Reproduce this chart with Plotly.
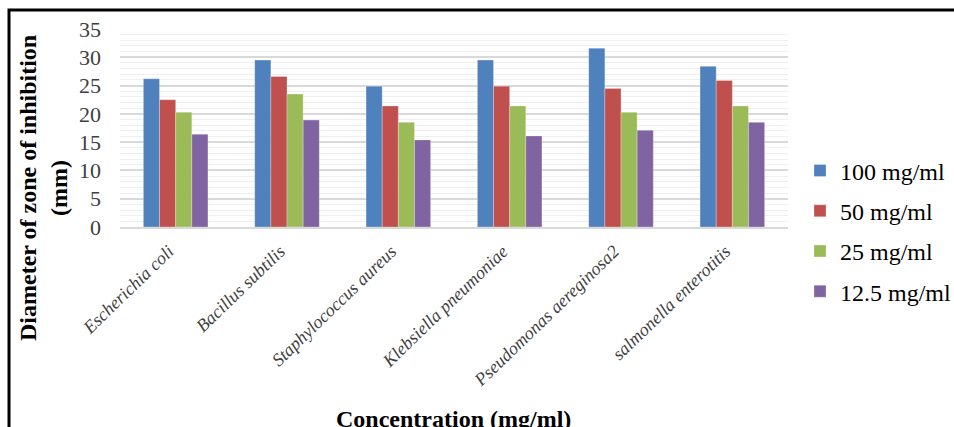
import plotly.graph_objects as go

# Bacterial strains tested
organisms = [
    "Escherichia coli",
    "Bacillus subtilis",
    "Staphylococcus aureus",
    "Klebsiella pneumoniae",
    "Pseudomonas aereginosa2",
    "salmonella enterotitis",
]

# Zone of inhibition (mm) for each extract concentration
conc_100 = [26.2, 29.5, 24.9, 29.5, 31.6, 28.4]
conc_50 = [22.5, 26.6, 21.4, 24.9, 24.5, 25.9]
conc_25 = [20.3, 23.5, 18.5, 21.4, 20.3, 21.4]
conc_12_5 = [16.4, 18.9, 15.4, 16.1, 17.1, 18.5]

series_names = ["100 mg/ml", "50 mg/ml", "25 mg/ml", "12.5 mg/ml"]
series_values = [conc_100, conc_50, conc_25, conc_12_5]
colors = ["#4F81BD", "#C0504D", "#9BBB59", "#8064A2"]

SERIF = "Liberation Serif"

fig = go.Figure()
for i, (name, vals, col) in enumerate(zip(series_names, series_values, colors)):
    fig.add_trace(go.Bar(
        x=organisms, y=vals, name=name, legendgroup=f"g{i}",
        marker=dict(color=col, line=dict(color="rgba(255,255,255,0.35)", width=0.8)),
    ))

W, H = 954, 427
L, R, T, B = 120, 166, 29, 200
pw, ph = W - L - R, H - T - B


def px_x(p):
    return (p - L) / pw


def px_y(p):
    return (H - B - p) / ph


fig.update_layout(
    width=W, height=H,
    margin=dict(l=L, r=R, t=T, b=B, pad=0),
    paper_bgcolor="white", plot_bgcolor="white",
    barmode="group", bargap=0.42, bargroupgap=0,
    font=dict(family=SERIF, color="#000000"),
    showlegend=True,
    legend=dict(
        xref="container", yref="container",
        x=800 / W, y=1 - 231 / H, xanchor="left", yanchor="middle",
        font=dict(family=SERIF, size=24, color="#000000"),
        traceorder="grouped", tracegroupgap=6,
        itemwidth=30, bgcolor="rgba(0,0,0,0)",
    ),
    xaxis=dict(
        tickangle=-44,
        tickfont=dict(family=SERIF, size=18, color="#404040"),
        tickprefix="<i>", ticksuffix="</i>",
        ticklabelshift=-7, ticklabelstandoff=5,
        showline=True, linecolor="#D9D9D9", linewidth=1.5,
        showgrid=False, ticks="",
    ),
    yaxis=dict(
        range=[0, 35], dtick=5,
        tickfont=dict(family=SERIF, size=22, color="#404040"),
        showgrid=True, gridcolor="#D9D9D9", gridwidth=1.5,
        minor=dict(dtick=1, showgrid=True, gridcolor="#EFEFEF", gridwidth=1),
        zeroline=False, showline=False, ticks="",
        ticklabelstandoff=18,
    ),
    annotations=[
        dict(
            text="<b>Diameter of zone of inhibition<br>(mm)</b>",
            xref="paper", yref="paper", x=px_x(43), y=px_y(188),
            xanchor="center", yanchor="middle", textangle=-90,
            showarrow=False, font=dict(family=SERIF, size=24, color="#000000"),
        ),
        dict(
            text="<b>Concentration (mg/ml)</b>",
            xref="paper", yref="paper", x=px_x(453), y=px_y(419),
            xanchor="center", yanchor="middle",
            showarrow=False, font=dict(family=SERIF, size=24, color="#000000"),
        ),
    ],
    shapes=[
        dict(
            type="rect", xref="paper", yref="paper",
            x0=px_x(9), x1=px_x(1100), y0=px_y(600), y1=px_y(10),
            line=dict(color="black", width=3), fillcolor="rgba(0,0,0,0)",
            layer="above",
        )
    ],
)

fig.write_html("out.html")
